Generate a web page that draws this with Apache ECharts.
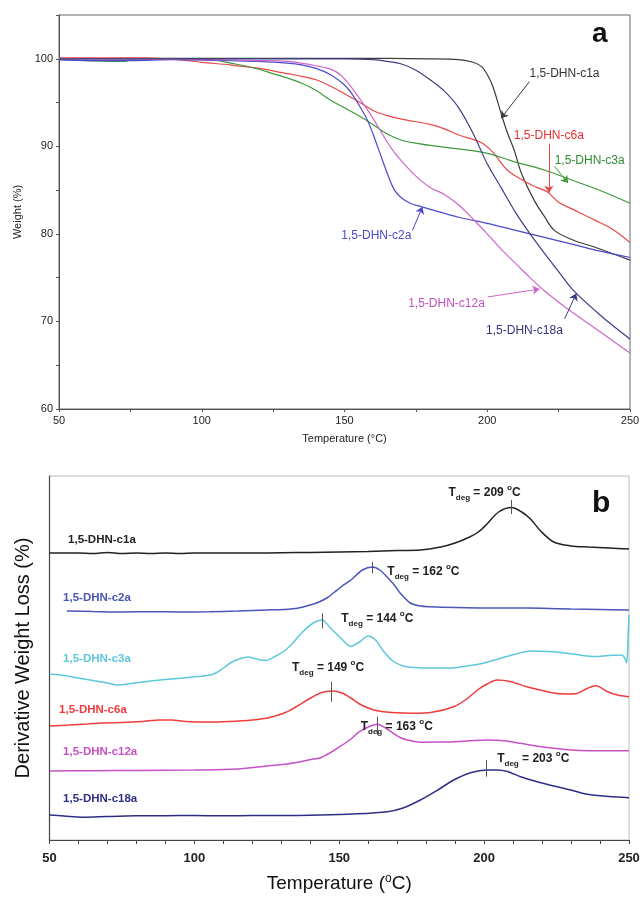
<!DOCTYPE html>
<html><head><meta charset="utf-8">
<script src="https://cdn.jsdelivr.net/npm/echarts@6/dist/echarts.min.js"></script>
<style>html,body{margin:0;padding:0;background:#fff}#c{width:640px;height:898px}</style>
</head><body><div id="c"></div>
<script>
// ---------- panel a: TGA weight (%) vs temperature (°C) ----------
const tgaC1a = [[50,100],[100,100.05],[150,100.05],[180,100],[190,99.9],[195,99.6],[198,99.1],[200,98.2],[202,96.8],[205,93.6],[207,91.6],[209.5,89.5],[212,86.9],[216.5,83.8],[220,82],[223.5,80.4],[230,79.3],[237.5,78.5],[250,77]];
const tgaC2a = [[50,99.9],[60,99.8],[75,99.8],[90,99.9],[110,99.8],[120,99.7],[130,99.5],[135,99.3],[140,98.9],[145,98.2],[150,97],[153,95.8],[156,94.2],[158,93],[160,91.4],[162,89.6],[165,86.9],[167.5,85],[170,84.1],[173,83.5],[177,83.1],[180,82.8],[190,81.9],[200,81.2],[210,80.4],[220,79.6],[230,78.8],[240,78],[250,77.3]];
const tgaC3a = [[50,99.9],[60,99.8],[70,99.7],[73,99.7],[76,100],[80,100],[100,99.9],[105,99.8],[110,99.5],[115,99.2],[120,98.8],[125,98.3],[130,97.8],[135,97.2],[140,96.4],[145,95.3],[150,94.4],[155,93.5],[160,92.5],[165,91.4],[170,90.7],[176,90.3],[180,90.1],[190,89.7],[200,89.2],[210,88.2],[220,87.3],[230,86.1],[240,84.9],[250,83.5]];
const tgaC6a = [[50,100.1],[80,100.1],[95,99.8],[100,99.6],[110,99.3],[120,98.9],[130,98.3],[135,98],[140,97.6],[145,96.9],[150,96],[155,95.1],[160,94.1],[165,93.5],[170,93.1],[180,92.5],[185,92],[190,91.3],[198,90.4],[202,89.3],[207,87.3],[212,86.2],[216,85.5],[221,84.8],[225,83.6],[230,82.8],[237.5,81.6],[244,80.5],[250,79]];
const tgaC12a = [[50,100],[100,99.9],[120,99.8],[130,99.7],[140,99.2],[146,98.7],[150,97.7],[155,95.6],[158,94.2],[160,93.2],[164,91],[167,89.5],[170,88.3],[175,86.6],[180,85.3],[185,84.5],[190,83.3],[195,81.7],[200,80],[205,78.2],[210,76.6],[215,75],[220,73.5],[225,72.2],[230,71],[240,68.7],[250,66.4]];
const tgaC18a = [[50,100],[100,100],[150,100],[160,99.9],[165,99.7],[170,99.4],[175,98.7],[180,97.6],[185,96.3],[190,94.4],[195,91.5],[200,88],[205,85.2],[210,82.4],[215,80],[220,77.8],[225,75.7],[230,73.6],[240,70.6],[250,68]];

// ---------- panel b: derivative weight loss (offset curves, arbitrary units) ----------
const dtgC1a = [[50,287],[60,287],[65,286.5],[70,287.5],[75,286.5],[80,287],[85,286.5],[90,287],[95,286.5],[100,287],[110,287],[120,287],[130,287.3],[140,287.5],[150,288],[160,288.5],[170,289.5],[178,290],[185,293],[190,297],[195,303],[198,308],[201,316],[205,328],[209.5,332.5],[213,328],[216,321],[219.5,309],[224,298],[230,294],[236,293],[243,292],[250,291]];
const dtgC2a = [[56,229],[65,228.5],[75,228],[85,228.3],[95,228],[105,228.3],[115,229],[125,230],[131,230.5],[136,232],[140,235],[143,238],[146,242.5],[148,247],[151,254],[154,260],[158,270],[161.5,273],[164,270],[166.5,263],[169,255],[171,247],[174.5,237],[178,234],[181.5,233.3],[190,232.5],[200,232],[210,232],[220,231.7],[230,231],[240,230.5],[250,230]];
const dtgC3a = [[50,166],[55,164.5],[60,162],[65,159.5],[70,157],[73.5,155],[78,156.5],[85,159],[90,160.5],[96,162],[101,163.5],[105.5,165],[108,168],[110,172],[113,178],[116,181.5],[118.5,183],[121.5,181],[124.5,179.5],[127.5,183],[131,189],[134,197],[137,207],[141,217],[144,220],[147,212],[150.5,202],[154,193.5],[157,198],[160,204],[162.5,200],[165.5,188],[168.5,179],[172,174],[176,172.5],[182,172],[188,172],[194,174],[200,177],[206,182],[211,186],[216,189],[222,188.5],[228,187],[233,185],[238,183.5],[243,184.5],[247.5,185],[248.5,182],[249.2,177],[249.7,205],[250,225]];
const dtgC6a = [[50,114],[57,115],[63,116],[68,117],[75,117.5],[82,118.5],[88,120],[92,120],[97,118.5],[104,118],[112,118.5],[120,120],[126,122.5],[131,127],[135,133],[139,140],[143.5,147],[147.5,149],[151,147],[154,142],[157,136],[160,132],[163,129.3],[168,127.5],[175.5,126.7],[182,127.7],[189.5,133.3],[194,141],[197.7,150],[201,156],[204.5,160],[209,158.5],[215,153],[220,149.5],[224,147],[228,146],[232,146.5],[235.7,151.7],[238.5,154.3],[242.6,148.3],[246,145],[250,143.3]];
const dtgC12a = [[50,69],[65,69.3],[80,69.5],[100,70],[115,71],[125,74],[132,76],[137,78.5],[141,81],[143.4,82],[147,87.5],[150.2,93.3],[154,101],[157,108.3],[160,113],[163.2,115.7],[166,112],[168.7,106.7],[171,102.5],[173.5,100],[178,97.7],[185,98],[190,98.3],[195,99.2],[201,100],[207,99.2],[212.6,96.7],[218,94],[224,91.7],[230,90],[236,89.3],[243,89.3],[250,89.3]];
const dtgC18a = [[50,25],[55,24],[61.6,22.7],[70,23.5],[80,24.2],[90,24.3],[100,24.5],[110,24.2],[120,24.5],[130,24.5],[143.5,25],[155,26],[166.6,28.3],[172,32],[178,40],[184,50],[189.5,60],[195.3,67.3],[201,70],[204.5,70],[208,68.5],[212.6,63.3],[218,58.5],[224,54],[230,50],[235.7,45.7],[243,43.5],[250,42.3]];

// peak temperatures (T_deg) labels
const tdegLabels = ['209','162','144','149','163','203'];
const seriesNames = ['1,5-DHN-c1a','1,5-DHN-c2a','1,5-DHN-c3a','1,5-DHN-c6a','1,5-DHN-c12a','1,5-DHN-c18a'];

const FONT = '"Liberation Sans", Arial, sans-serif';
const chart = echarts.init(document.getElementById('c'));

function lbl(coord, text, color, size, bold) {
  return { coord: coord, symbol: 'circle', symbolSize: 0,
    label: { show: true, position: 'right', distance: 0, formatter: text, color: color,
      fontSize: size, fontWeight: bold ? 'bold' : 'normal', fontFamily: FONT } };
}
function arrow(a, b) { return [{ coord: a }, { coord: b }]; }
function tick(x, y1, y2) { return [{ coord: [x, y1] }, { coord: [x, y2] }]; }
function tdeg(coord, val) {
  return { coord: coord, symbol: 'circle', symbolSize: 0,
    label: { show: true, position: 'right', distance: 0,
      formatter: '{t|T}{s|deg}{t| = ' + val + ' }{o|o}{t|C}',
      rich: {
        t: { fontSize: 12, fontWeight: 'bold', color: '#222', fontFamily: FONT, lineHeight: 18, verticalAlign: 'middle' },
        s: { fontSize: 8, fontWeight: 'bold', color: '#222', fontFamily: FONT, lineHeight: 18, verticalAlign: 'bottom' },
        o: { fontSize: 8, fontWeight: 'bold', color: '#222', fontFamily: FONT, lineHeight: 18, verticalAlign: 'top' }
      } } };
}

function topSeries(name, data, color, labelColor, labelCoord, arrowFrom, arrowTo) {
  return { name: name, type: 'line', xAxisIndex: 0, yAxisIndex: 0, data: data, showSymbol: false,
    smooth: 0.35, lineStyle: { color: color, width: 1.2 }, itemStyle: { color: color }, silent: true, z: 3,
    markPoint: { silent: true, data: [lbl(labelCoord, name, labelColor, 12, false)] },
    markLine: { silent: true, symbol: ['none', 'arrow'], symbolSize: 7,
      lineStyle: { color: color, width: 1, type: 'solid' }, label: { show: false },
      data: [arrow(arrowFrom, arrowTo)] } };
}
function botSeries(name, data, color, labelCoord, tdegCoord, tdegVal, tickLine) {
  return { name: name + ' DTG', type: 'line', xAxisIndex: 1, yAxisIndex: 1, data: data, showSymbol: false,
    smooth: 0.3, lineStyle: { color: color, width: 1.5 }, itemStyle: { color: color }, silent: true, z: 3,
    markPoint: { silent: true, data: [lbl(labelCoord, name, color, 11.5, true), tdeg(tdegCoord, tdegVal)] },
    markLine: { silent: true, symbol: ['none', 'none'], lineStyle: { color: '#555', width: 1, type: 'solid' },
      label: { show: false }, data: [tickLine] } };
}

const option = {
  backgroundColor: '#fff',
  animation: false,
  textStyle: { fontFamily: FONT },
  title: [
    { text: 'a', left: 592, top: 20, padding: 0, textStyle: { fontSize: 28, fontWeight: 'bold', color: '#111', fontFamily: FONT } },
    { text: 'b', left: 592, top: 489, padding: 0, textStyle: { fontSize: 30, fontWeight: 'bold', color: '#111', fontFamily: FONT } }
  ],
  grid: [
    { left: 59, right: 10, top: 15, bottom: 489, show: true, borderColor: '#666', borderWidth: 1, containLabel: false, outerBoundsMode: 'none' },
    { left: 49.5, right: 11, top: 476, bottom: 58, show: true, borderColor: '#bbb', borderWidth: 1, containLabel: false, outerBoundsMode: 'none' }
  ],
  xAxis: [
    { type: 'value', gridIndex: 0, min: 50, max: 250, interval: 25,
      name: 'Temperature (°C)', nameLocation: 'middle', nameGap: 24,
      nameTextStyle: { fontSize: 11, color: '#222', fontFamily: FONT },
      axisLine: { show: true, lineStyle: { color: '#555', width: 1 } },
      axisTick: { show: true, length: 3, lineStyle: { color: '#555' } },
      axisLabel: { fontSize: 11, color: '#222', margin: 6, fontFamily: FONT, formatter: v => (v % 50 === 0 ? String(v) : '') },
      splitLine: { show: false } },
    { type: 'value', gridIndex: 1, min: 50, max: 250, interval: 10,
      name: 'Temperature ({o|o}C)', nameLocation: 'middle', nameGap: 33,
      nameTextStyle: { fontSize: 19, color: '#111', fontFamily: FONT,
        rich: { o: { fontSize: 12, color: '#111', fontFamily: FONT, verticalAlign: 'top', lineHeight: 22 } } },
      axisLine: { show: true, lineStyle: { color: '#444', width: 1.2 } },
      axisTick: { show: true, length: 4, lineStyle: { color: '#444' } },
      axisLabel: { fontSize: 13, fontWeight: 'bold', color: '#222', margin: 12, fontFamily: FONT, formatter: v => (v % 50 === 0 ? String(v) : '') },
      splitLine: { show: false } }
  ],
  yAxis: [
    { type: 'value', gridIndex: 0, min: 60, max: 105, interval: 5,
      name: 'Weight (%)', nameLocation: 'middle', nameGap: 33,
      nameTextStyle: { fontSize: 11, color: '#222', fontFamily: FONT },
      axisLine: { show: true, lineStyle: { color: '#555', width: 1 } },
      axisTick: { show: true, length: 3, lineStyle: { color: '#555' } },
      axisLabel: { fontSize: 11, color: '#222', margin: 6, fontFamily: FONT, formatter: v => (v % 10 === 0 && v <= 100 ? String(v) : '') },
      splitLine: { show: false } },
    { type: 'value', gridIndex: 1, min: 0, max: 364,
      name: 'Derivative Weight Loss (%)', nameLocation: 'middle', nameGap: 16,
      nameTextStyle: { fontSize: 20, color: '#111', fontFamily: FONT },
      axisLine: { show: true, lineStyle: { color: '#444', width: 1.2 } },
      axisTick: { show: false }, axisLabel: { show: false }, splitLine: { show: false } }
  ],
  series: [
    topSeries(seriesNames[0], tgaC1a, '#3c3c3c', '#333', [214.8, 98.3], [214.8, 97.4], [204.8, 93.2]),
    topSeries(seriesNames[3], tgaC6a, '#e84848', '#e53030', [209.3, 91.2], [221.6, 90.3], [221.6, 84.7]),
    topSeries(seriesNames[2], tgaC3a, '#3d9a3d', '#2e8b2e', [223.6, 88.4], [223.6, 87.7], [228.3, 85.8]),
    topSeries(seriesNames[1], tgaC2a, '#4a4acb', '#4a4acb', [148.9, 79.8], [173.8, 80.4], [177.3, 83.1]),
    topSeries(seriesNames[4], tgaC12a, '#cc66cc', '#c050c0', [172.3, 72.0], [200.2, 72.8], [218.3, 73.7]),
    topSeries(seriesNames[5], tgaC18a, '#3e3e86', '#33337a', [199.6, 68.9], [227.1, 70.3], [231.2, 73.2]),

    botSeries(seriesNames[0], dtgC1a, '#222222', [56.4, 300], [187.7, 347], tdegLabels[0], tick(209.4, 340, 326)),
    botSeries(seriesNames[1], dtgC2a, '#4a56b8', [54.7, 242], [166.6, 268], tdegLabels[1], tick(161.3, 278.3, 266.7)),
    botSeries(seriesNames[2], dtgC3a, '#5cc8dc', [54.7, 181], [150.7, 221], tdegLabels[2], tick(144, 226.7, 211.7)),
    botSeries(seriesNames[3], dtgC6a, '#f03c3c', [53.3, 130], [133.7, 172], tdegLabels[3], tick(147.3, 158.3, 138.3)),
    botSeries(seriesNames[4], dtgC12a, '#c452c4', [54.7, 88.3], [157.4, 113.3], tdegLabels[4], tick(163, 123.3, 105)),
    botSeries(seriesNames[5], dtgC18a, '#2e2e86', [54.7, 41], [204.5, 81], tdegLabels[5], tick(200.7, 80, 63.3))
  ]
};
chart.setOption(option);
</script>
</body></html>
